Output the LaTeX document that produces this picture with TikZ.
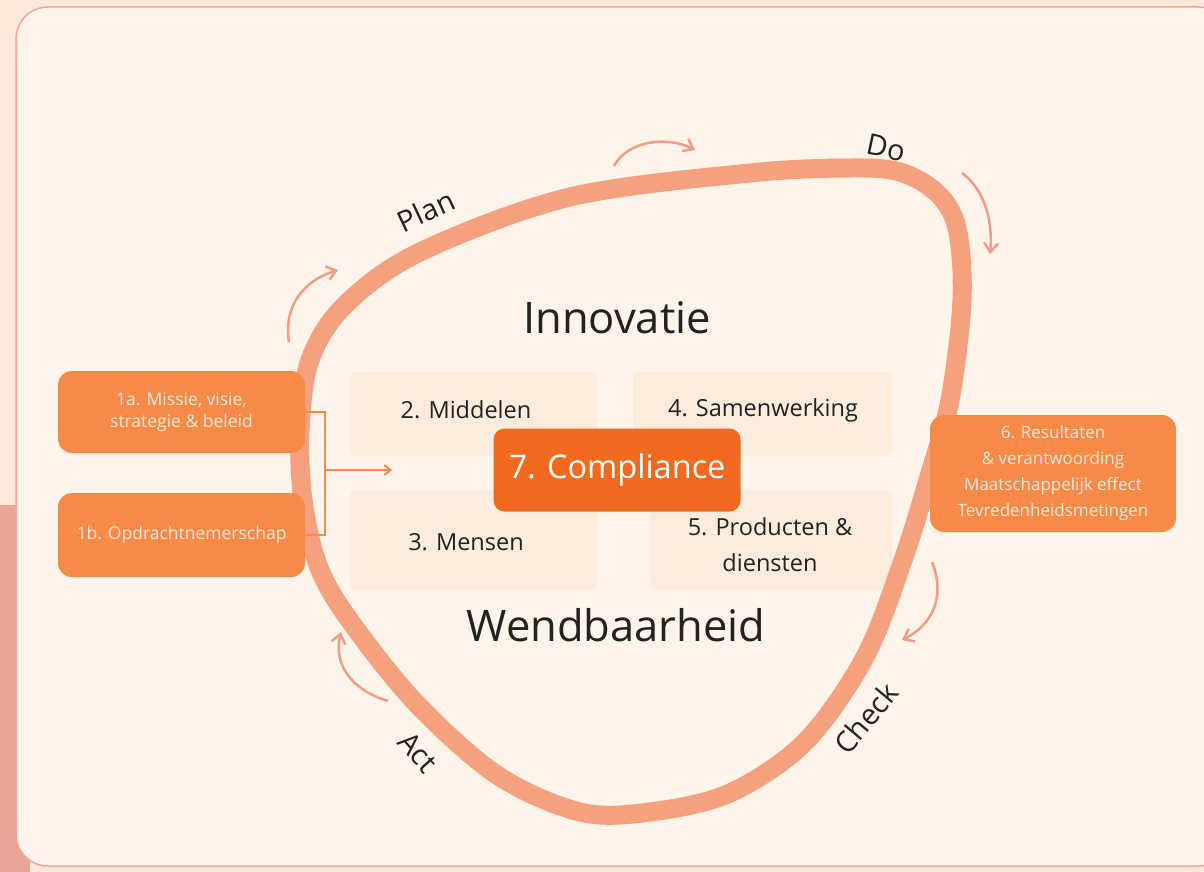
\documentclass[tikz,border=0pt]{standalone}
\usepackage{fontspec}
\setmainfont{Open Sans}
\usetikzlibrary{arrows.meta}
\definecolor{outerbg}{HTML}{FCE9DC}
\definecolor{panelbg}{HTML}{FEF4E9}
\definecolor{panelline}{HTML}{F2A598}
\definecolor{strip}{HTML}{E9A497}
\definecolor{loopc}{HTML}{F5A07F}
\definecolor{smallarr}{HTML}{F29C86}
\definecolor{boxor}{HTML}{F68B47}
\definecolor{compl}{HTML}{F26A1F}
\definecolor{innerbox}{HTML}{FCECDD}
\definecolor{darktext}{HTML}{222222}
\begin{document}
\begin{tikzpicture}[x=1pt,y=-1pt,
  sidebox/.style={fill=boxor, rounded corners=14pt, minimum width=247pt, align=center, text=white, text opacity=0.8, font=\fontsize{17.5}{22}\selectfont},
  innerpatch/.style={fill=innerbox, rounded corners=6pt},
  item/.style={text=darktext, align=center, font=\fontsize{23.5}{36}\selectfont},
  big/.style={text=darktext, font=\fontsize{43.5}{50}\selectfont},
  phase/.style={text=darktext, font=\fontsize{29}{32}\selectfont},
  smallarrow/.style={draw=smallarr, line width=2.5pt, -{Straight Barb[length=9pt,width=14pt]}},
  conn/.style={draw=boxor, line width=2pt}
]
\useasboundingbox (0,0) rectangle (1204,872);
% backgrounds
\fill[outerbg] (0,0) rectangle (1204,872);
\fill[strip] (0,505) rectangle (30,872);
\filldraw[fill=panelbg, draw=panelline, line width=1.5pt, rounded corners=32pt] (16,7) rectangle (1230,866);
% inner patches
\fill[innerpatch] (350,372) rectangle (597,456);
\fill[innerpatch] (633,372) rectangle (892,456);
\fill[innerpatch] (350,490) rectangle (597,590);
\fill[innerpatch] (650,490) rectangle (892,590);
% loop
\draw[loopc, line width=19pt] plot[smooth cycle, tension=0.55] coordinates {
 (310,360) (300,430) (303,500) (318,565) (348,618) (415,702) (497,775) (580,812) (650,812)
 (730,793) (805,742) (865,657) (903,560) (928,480) (950,400) (962,300) (957,228) (937,193)
 (900,172) (850,168) (750,173) (570,197) (420,252) (345,305)};
% small arrows
\coordinate (a1s) at (289,342); \coordinate (a1e) at (338,270);
\coordinate (a2s) at (614,166); \coordinate (a2e) at (695,150);
\coordinate (a3s) at (962,173); \coordinate (a3e) at (990,254);
\coordinate (a4s) at (932,562); \coordinate (a4e) at (902,640);
\coordinate (a5s) at (388,701); \coordinate (a5e) at (341,632);
\draw[smallarrow] (a1s) .. controls (283,305) and (305,280) .. (a1e);
\draw[smallarrow] (a2s) .. controls (628,140) and (668,136) .. (a2e);
\draw[smallarrow] (a3s) .. controls (985,190) and (993,222) .. (a3e);
\draw[smallarrow] (a4s) .. controls (946,597) and (932,625) .. (a4e);
\draw[smallarrow] (a5s) .. controls (352,690) and (333,665) .. (a5e);
% phase labels
\node[phase, rotate=25] (plan) at (426,211) {Plan};
\node[phase, rotate=-12] (do) at (886,148) {Do};
\node[phase, rotate=50] (check) at (866,718) {Check};
\node[phase, rotate=-48] (act) at (418,752) {Act};
% big words
\node[big] (innov) at (617,318) {Innovatie};
\node[big] (wend) at (616,625) {Wendbaarheid};
% items
\node[item] (mid) at (466,410) {2. Middelen};
\node[item] (sam) at (763,410) {4. Samenwerking};
\node[item] (men) at (466,542) {3. Mensen};
\node[item] (prod) at (770,545) {5. Producten \&\\diensten};
% compliance
\node[fill=compl, rounded corners=11pt, minimum width=247pt, minimum height=83pt, text=white, font=\fontsize{32.5}{36}\selectfont] (comp) at (617,470) {7. Compliance};
% side boxes
\node[sidebox, minimum height=82pt] (b1) at (181.5,412) {1a. Missie, visie,\\strategie \& beleid};
\node[sidebox, minimum height=84pt] (b2) at (181.5,535) {1b. Opdrachtnemerschap};
\node[sidebox, minimum width=246pt, minimum height=117pt, font=\fontsize{17}{26}\selectfont] (b6) at (1053,473.5) {6. Resultaten\\\& verantwoording\\Maatschappelijk effect\\Tevredenheidsmetingen};
% connector bracket
\coordinate (j1) at (325,412);
\coordinate (j2) at (325,535);
\coordinate (jm) at (325,470);
\coordinate (tip) at (392,470);
\draw[conn] (b1.east |- j1) -- (j1) -- (j2) -- (b2.east |- j2);
\draw[conn, -{Straight Barb[length=6pt,width=10pt]}] (jm) -- (tip);
\end{tikzpicture}
\end{document}
